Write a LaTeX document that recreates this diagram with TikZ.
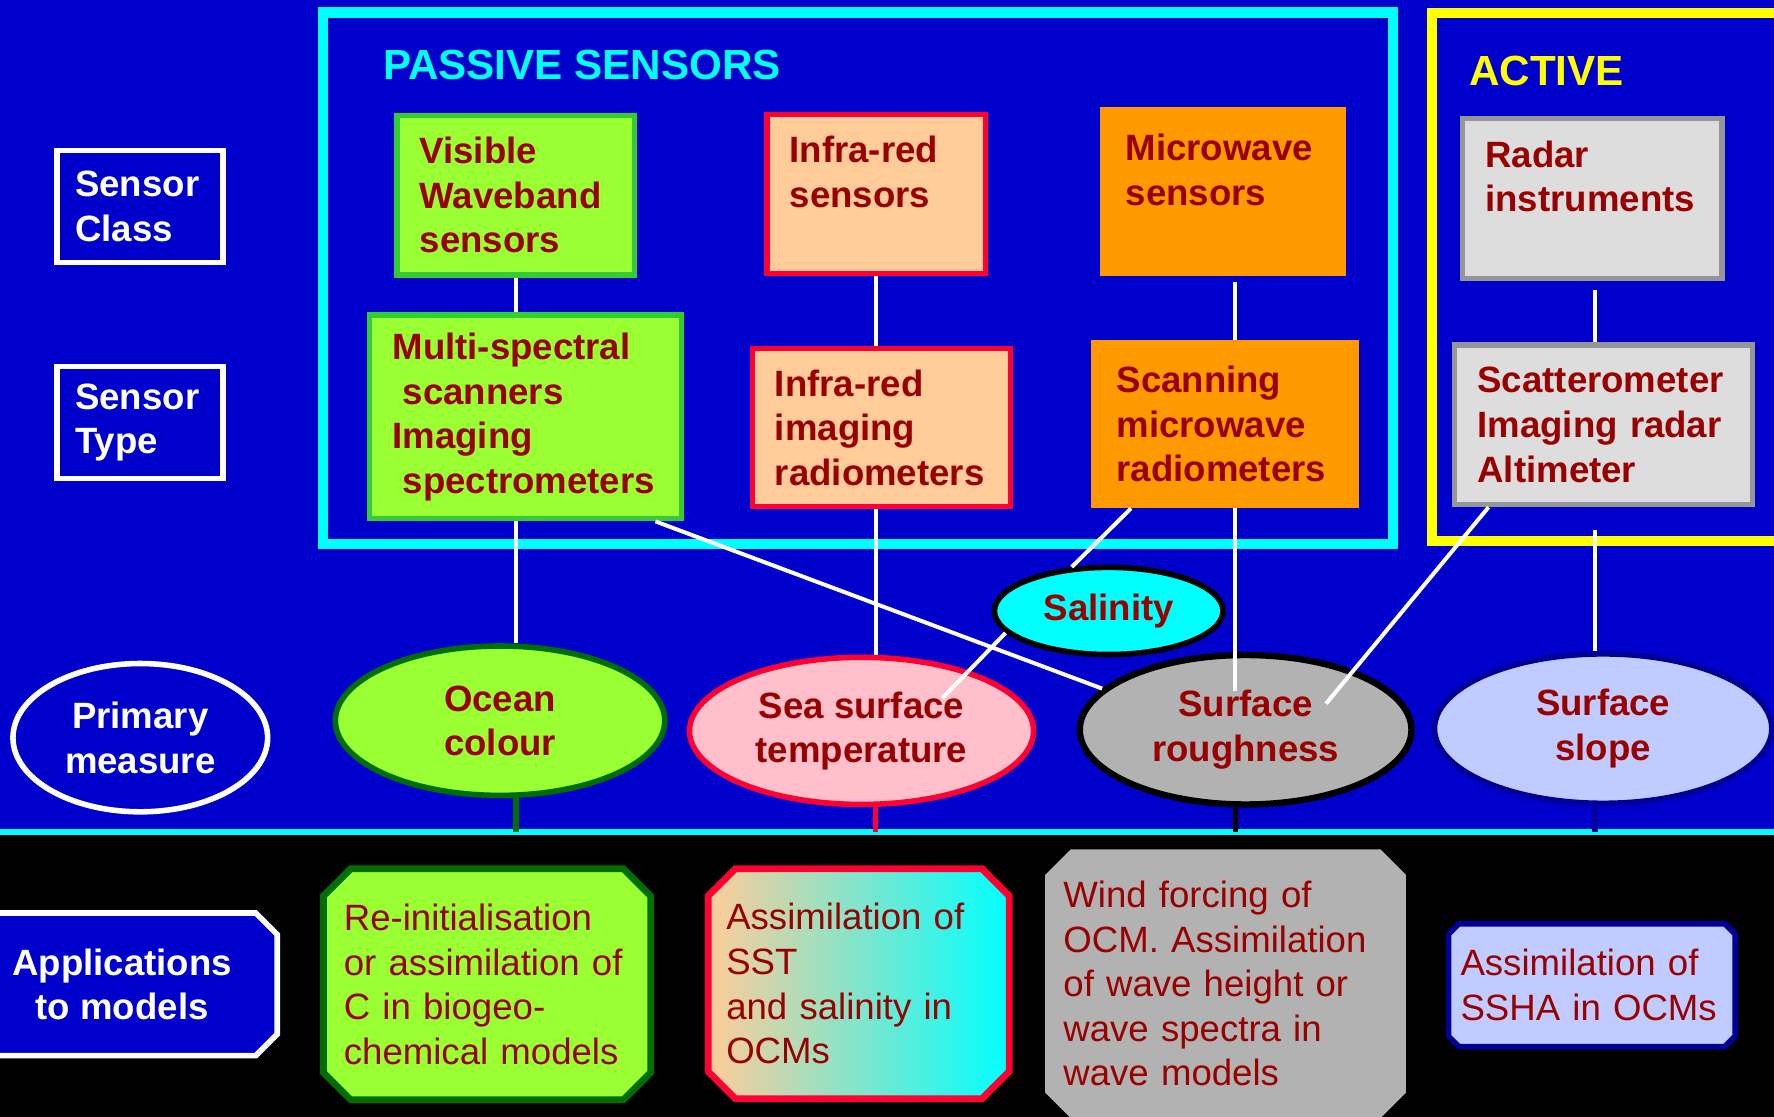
\documentclass[tikz,border=0pt]{standalone}
\usepackage{fontspec}
\setmainfont{Liberation Sans}
\usetikzlibrary{shapes.geometric,backgrounds}
\hyphenpenalty=10000
\exhyphenpenalty=10000

\definecolor{slideblue}{RGB}{0,0,204}
\definecolor{aqua}{RGB}{0,255,255}
\definecolor{lemon}{RGB}{255,255,0}
\definecolor{darkred}{RGB}{153,0,0}
\definecolor{limefill}{RGB}{153,255,51}
\definecolor{limeline}{RGB}{51,204,51}
\definecolor{leafgreen}{RGB}{0,110,0}
\definecolor{peach}{RGB}{255,204,153}
\definecolor{hotred}{RGB}{255,0,51}
\definecolor{mworange}{RGB}{255,153,0}
\definecolor{radargrey}{RGB}{221,221,221}
\definecolor{radarline}{RGB}{150,150,150}
\definecolor{sstpink}{RGB}{255,192,203}
\definecolor{roughgrey}{RGB}{178,178,178}
\definecolor{slopeblue}{RGB}{192,204,255}
\definecolor{slopeline}{RGB}{0,0,153}

\newcommand\chamferbox[3][]{%
  \draw[#1] ([xshift=#3]#2.north west) -- ([xshift=-#3]#2.north east)
    -- ([yshift=-#3]#2.north east) -- ([yshift=#3]#2.south east)
    -- ([xshift=-#3]#2.south east) -- ([xshift=#3]#2.south west)
    -- ([yshift=#3]#2.south west) -- ([yshift=-#3]#2.north west) -- cycle;}

\begin{document}
\begin{tikzpicture}[x=0.01cm, y=-0.01cm,
  every node/.style={font=\bfseries\fontsize{9.2}{11.2}\selectfont},
  head/.style={anchor=west, inner sep=0pt, font=\bfseries\fontsize{10.6}{12.7}\selectfont},
  rowtag/.style={draw=white, line width=1.3pt, text=white, align=left,
    inner xsep=0.16cm, text width=1.145cm, minimum width=1.465cm, minimum height=0.99cm},
  sensor/.style={draw, line width=1.3pt, inner xsep=0.2cm, inner ysep=0pt,
    align=left, text=darkred},
  measure/.style={ellipse, line width=1.4pt, inner sep=0pt, align=center, text=darkred},
  usage/.style={inner xsep=0.18cm, inner ysep=0pt, outer sep=0pt, align=left,
    text=darkred, font=\fontsize{9.2}{11.2}\selectfont},
  wire/.style={white, line width=1pt},
  stub/.style={line width=1.4pt},
  groupframe/.style={line width=2.56pt}]

  \path[use as bounding box] (0,0) rectangle (1568,987);
  \begin{scope}[on background layer]
    \fill[slideblue] (0,0) rectangle (1568,735.5);
    \fill[black] (0,735.5) rectangle (1568,987);
  \end{scope}
  \draw[groupframe, aqua] (285.5,11) rectangle (1231,481);
  \draw[groupframe, lemon] (1266,11.5) rectangle (1590,478.5);
  \draw[aqua, line width=1.4pt] (0,735.5) -- (1568,735.5);
  \coordinate (sep) at (0,735.5);
  \coordinate (c1) at (456,0);
  \coordinate (c2) at (774,0);
  \coordinate (c3) at (1092,0);
  \coordinate (c4) at (1410,0);
  \coordinate (sstin) at (833,617);
  \coordinate (roughin) at (1092,611);
  \coordinate (roughin2) at (1172,622);

  \node[head, text=aqua] (passive) at (338,57) {PASSIVE SENSORS};
  \node[head, text=lemon] (active) at (1298,63) {ACTIVE};

  \node[rowtag] (class) at (123.75,182.5) {Sensor\\Class};
  \node[rowtag] (type) at (123.75,373.5) {Sensor\\Type};

  \node[sensor, fill=limefill, draw=limeline, minimum width=2.1cm,
    minimum height=1.41cm, text width=1.7cm] (vis) at (456,172.5)
    {Visible\\Waveband\\sensors};
  \node[sensor, fill=peach, draw=hotred, minimum width=1.93cm,
    minimum height=1.41cm, text width=1.53cm] (ir) at (774.5,171.5)
    {Infra-red\\sensors\\~};
  \node[sensor, fill=mworange, draw=mworange, minimum width=2.12cm,
    minimum height=1.45cm, text width=1.72cm] (mw) at (1081,169.5)
    {Microwave\\sensors\\~};
  \node[sensor, fill=radargrey, draw=radarline, minimum width=2.29cm,
    minimum height=1.41cm, text width=1.89cm] (radar) at (1407.5,175.5)
    {Radar\\instruments\\~};

  \node[sensor, fill=limefill, draw=limeline, minimum width=2.75cm,
    minimum height=1.8cm, text width=2.35cm] (multi) at (464.5,368.5)
    {Multi-spectral\\\hspace*{0.09cm}scanners\\Imaging\\\hspace*{0.09cm}spectrometers};
  \node[sensor, fill=peach, draw=hotred, minimum width=2.28cm,
    minimum height=1.4cm, text width=1.88cm] (irimg) at (779,378)
    {Infra-red\\imaging\\radiometers};
  \node[sensor, fill=mworange, draw=mworange, minimum width=2.32cm,
    minimum height=1.44cm, text width=1.92cm] (scan) at (1083,375)
    {Scanning\\microwave\\radiometers};
  \node[sensor, fill=radargrey, draw=radarline, minimum width=2.63cm,
    minimum height=1.41cm, text width=2.23cm] (scat) at (1417.5,375.5)
    {Scatterometer\\Imaging radar\\Altimeter};

  \node[measure, draw=white, text=white, minimum width=2.25cm,
    minimum height=1.31cm] (primary) at (124,652) {Primary\\measure};
  \node[measure, fill=limefill, draw=leafgreen, minimum width=2.91cm,
    minimum height=1.32cm] (ocean) at (442,637) {Ocean\\colour};
  \node[measure, fill=sstpink, draw=hotred, minimum width=3.04cm,
    minimum height=1.3cm] (sst) at (761.5,646) {Sea surface\\temperature};
  \node[measure, fill=aqua, draw=black, minimum width=2.02cm,
    minimum height=0.77cm] (sal) at (980,540) {Salinity};
  \node[measure, fill=roughgrey, draw=black, line width=1.6pt, minimum width=2.93cm,
    minimum height=1.32cm] (rough) at (1101,645) {Surface\\roughness};
  \node[measure, fill=slopeblue, draw=slopeline, minimum width=2.98cm,
    minimum height=1.32cm] (slope) at (1417,644) {Surface\\slope};

  \node[usage, text=white, align=center, font=\bfseries\fontsize{9.2}{11.2}\selectfont,
    minimum width=2.74cm, minimum height=1.26cm] (apps) at (108,870)
    {Applications\\to models};
  \node[usage, minimum width=2.89cm, minimum height=2.04cm, text width=2.53cm]
    (reinit) at (430.5,870)
    {Re-initialisation\\or assimilation of\\C in biogeo-\\chemical models};
  \node[usage, inner xsep=0.16cm, minimum width=2.66cm, minimum height=2.03cm,
    text width=2.34cm] (sstapp) at (759,869.5)
    {Assimilation of\\SST\\and salinity in\\OCMs};
  \node[usage, inner xsep=0.17cm, minimum width=3.205cm, minimum height=2.39cm,
    text width=2.865cm] (wind) at (1083.25,869.5)
    {Wind forcing of\\OCM. Assimilation\\of wave height or\\wave spectra in\\wave models};
  \node[usage, inner xsep=0.105cm, minimum width=2.53cm, minimum height=1.085cm,
    text width=2.32cm] (ssha) at (1407,870.75)
    {Assimilation of\\SSHA in OCMs};

  \begin{scope}[on background layer]
    \chamferbox[fill=slideblue, draw=white, line width=1.4pt]{apps}{0.19cm}
    \chamferbox[fill=limefill, draw=leafgreen, line width=1.7pt]{reinit}{0.24cm}
    \chamferbox[left color=peach, right color=aqua, draw=hotred, line width=1.7pt]{sstapp}{0.24cm}
    \chamferbox[fill=roughgrey]{wind}{0.23cm}
    \chamferbox[fill=slopeblue, draw=slopeline, line width=1.4pt]{ssha}{0.09cm}
  \end{scope}

  \draw[wire] (c1 |- vis.south) -- (c1 |- multi.north);
  \draw[wire] (c2 |- ir.south) -- (c2 |- irimg.north);
  \draw[wire] ([yshift=-0.05cm]c3 |- mw.south) -- (c3 |- scan.north);
  \draw[wire] ([yshift=-0.08cm]c4 |- radar.south) -- (c4 |- scat.north);
  \draw[wire] (c1 |- multi.south) -- (c1 |- ocean.north);
  \draw[wire] (c2 |- irimg.south) -- (c2 |- sst.north);
  \draw[wire] (c3 |- scan.south) -- (roughin);
  \draw[wire] ([yshift=-0.2cm]c4 |- scat.south) -- (c4 |- slope.north);
  \draw[wire] ([xshift=-0.25cm]multi.south east) -- (rough.164);
  \draw[wire] ([xshift=0.35cm]scan.south west) -- (sal.130);
  \draw[wire] (sal.192) -- (sstin);
  \draw[wire] ([xshift=0.32cm]scat.south west) -- (roughin2);

  \draw[stub, leafgreen] (c1 |- ocean.south) -- (c1 |- sep);
  \draw[stub, hotred] (c2 |- sst.south) -- (c2 |- sep);
  \draw[stub, black] (c3 |- rough.south) -- (c3 |- sep);
  \draw[stub, slopeline] (c4 |- slope.south) -- (c4 |- sep);
\end{tikzpicture}
\end{document}
